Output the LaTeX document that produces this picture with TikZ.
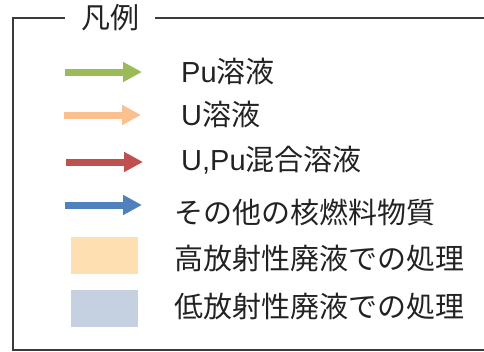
\documentclass[tikz,border=0pt]{standalone}
\usepackage{fontspec}
\setmainfont{Liberation Sans}
\newfontfamily\cjk{Noto Sans CJK JP}
\usetikzlibrary{positioning,arrows.meta}
\definecolor{puGreen}{HTML}{9BBB59}
\definecolor{uOrange}{HTML}{FAC08F}
\definecolor{mixRed}{HTML}{C0504D}
\definecolor{otherBlue}{HTML}{4F81BD}
\definecolor{hlwPeach}{HTML}{FDDFB1}
\definecolor{llwGray}{HTML}{C5D0E0}
\definecolor{frameGray}{HTML}{3A3A3A}
\definecolor{textGray}{HTML}{222222}

\begin{document}
\begin{tikzpicture} [
	x=1pt,y=-1pt,
	node distance=0cm,
	frame/.style={
		draw=frameGray,line width=2pt},
	legtext/.style={
		anchor=west,inner sep=0pt,text=textGray,
		font=\fontsize{29}{35}\selectfont},
	flow/.style={
		line width=7pt,-{Triangle[length=19pt,width=19pt]}},
	patch/.style={
		rectangle,draw=none,inner sep=0pt,
		minimum width=67pt,minimum height=37pt}]
\clip (0,0) rectangle (484,351);
\useasboundingbox (0,0) rectangle (484,351);
% legend frame, right side runs off the page
\draw[frame] (13,18) rectangle (500,350);
\node [legtext,anchor=center,fill=white,inner xsep=16pt]	(title) at (110,18)	{\cjk 凡例};
% sample arrows
\coordinate (pu start) at (65,72);
\coordinate (pu end) at (142,72);
\coordinate (u start) at (64,115);
\coordinate (u end) at (141,115);
\coordinate (mix start) at (66,162);
\coordinate (mix end) at (143,162);
\coordinate (other start) at (65,205);
\coordinate (other end) at (142,205);
\draw[flow,draw=puGreen,fill=puGreen] (pu start) -- (pu end);
\draw[flow,draw=uOrange,fill=uOrange] (u start) -- (u end);
\draw[flow,draw=mixRed,fill=mixRed] (mix start) -- (mix end);
\draw[flow,draw=otherBlue,fill=otherBlue] (other start) -- (other end);
% sample patches
\node [patch,fill=hlwPeach]	(hlw) at (104.5,255.5)	{};
\node [patch,fill=llwGray]	(llw) at (104.5,308.5)	{};
% texts
\node [legtext]	(pu text) at (181,71)	{Pu{\cjk 溶液}};
\node [legtext]	(u text) at (181,114)	{U{\cjk 溶液}};
\node [legtext]	(mix text) at (181,160)	{U,Pu{\cjk 混合溶液}};
\node [legtext]	(other text) at (174,212)	{\cjk その他の核燃料物質};
\node [legtext]	(hlw text) at (174,259)	{\cjk 高放射性廃液での処理};
\node [legtext]	(llw text) at (174,307)	{\cjk 低放射性廃液での処理};
\end{tikzpicture}
\end{document}
